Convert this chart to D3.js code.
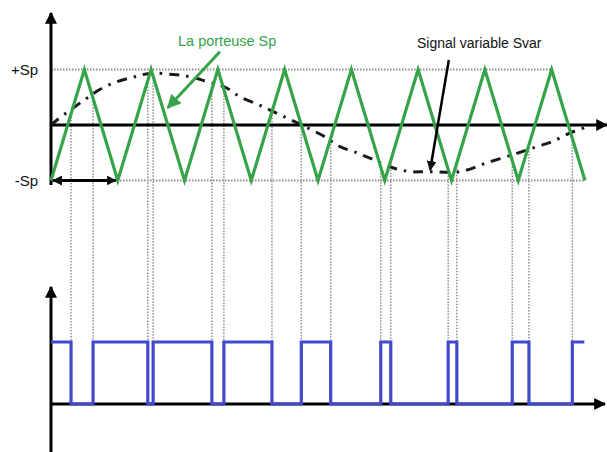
<!DOCTYPE html>
<html>
<head>
<meta charset="utf-8">
<script src="https://cdn.jsdelivr.net/npm/d3@7"></script>
<style>
  html, body { margin: 0; padding: 0; background: #fff; }
  svg { display: block; font-family: "Liberation Sans", Arial, sans-serif; }
</style>
</head>
<body>
<svg id="chart" width="607" height="452"></svg>
<script>
// ---- Data (time in carrier periods, amplitude in units of Sp) ----
const carrierT = [0, 0.5, 1, 1.5, 2, 2.5, 3, 3.5, 4, 4.5, 5, 5.5, 6, 6.5, 7, 7.5, 8];
const carrierV = [-1, 1, -1, 1, -1, 1, -1, 1, -1, 1, -1, 1, -1, 1, -1, 1, -1];

const svarT = [0, 0.10, 0.51, 0.73, 0.99, 1.26, 1.48, 1.83, 2.08, 2.34, 2.61, 2.83, 3.10, 3.33, 3.58, 3.84, 4.10, 4.33, 4.58, 4.82, 5.12, 5.38, 5.63, 6.13, 6.53, 6.98, 7.28, 7.51, 7.78, 8.04];
const svarV = [0, 0.10, 0.46, 0.64, 0.78, 0.87, 0.93, 0.91, 0.87, 0.78, 0.68, 0.51, 0.37, 0.24, 0.10, -0.05, -0.21, -0.39, -0.50, -0.62, -0.77, -0.84, -0.84, -0.84, -0.68, -0.51, -0.39, -0.30, -0.14, -0.03];

// PWM output: switching instants and level held after each instant
const pwmT     = [0, 0.30, 0.63, 1.45, 1.53, 2.41, 2.59, 3.31, 3.75, 4.19, 4.94, 5.09, 5.95, 6.08, 6.91, 7.16, 7.81, 7.99];
const pwmLevel = [1, 0,    1,    0,    1,    0,    1,    0,    1,    0,    1,    0,    1,    0,    1,    0,    1,    1];

const yTickValues = [1, -1];
const yTickLabels = ["+Sp", "-Sp"];

const carrierLabel = "La porteuse Sp";
const svarLabel = "Signal variable Svar";

// ---- Scales ----
const svg = d3.select("#chart");
const x = d3.scaleLinear().domain([0, 8]).range([51, 585]);
const y = d3.scaleLinear().domain([-1, 1]).range([180.5, 69.5]);
const yb = d3.scaleLinear().domain([0, 1]).range([404, 342]);

const GREEN = "#35a347";
const BLUE = "#4349cc";
const GRID = "#8e8e8e";

// ---- Markers ----
const defs = svg.append("defs");
function marker(id, color, size) {
  defs.append("marker")
    .attr("id", id)
    .attr("viewBox", "0 -5 10 10")
    .attr("refX", 9).attr("refY", 0)
    .attr("markerUnits", "userSpaceOnUse")
    .attr("markerWidth", size).attr("markerHeight", size)
    .attr("orient", "auto-start-reverse")
    .append("path").attr("d", "M0,-5L10,0L0,5Z").attr("fill", color);
}
marker("arrBlack", "#000", 12);
marker("arrSmall", "#111", 10);
marker("arrGreen", GREEN, 14);

function carrierAt(t) {
  const i = Math.max(1, Math.min(carrierT.length - 1, d3.bisectRight(carrierT, t)));
  const t0 = carrierT[i - 1], t1 = carrierT[i];
  return d3.interpolateNumber(carrierV[i - 1], carrierV[i])((t - t0) / (t1 - t0));
}

// ---- Dotted guide lines ----
svg.append("line")
  .attr("x1", x(0)).attr("x2", x(7.5))
  .attr("y1", y(1)).attr("y2", y(1))
  .attr("stroke", GRID).attr("stroke-width", 1.8).attr("stroke-dasharray", "1.5,1.5");
svg.append("line")
  .attr("x1", x(0)).attr("x2", x(8))
  .attr("y1", y(-1)).attr("y2", y(-1))
  .attr("stroke", GRID).attr("stroke-width", 1.8).attr("stroke-dasharray", "1.5,1.5");

const edges = pwmT.slice(1, pwmT.length - 1);
svg.append("g").selectAll("line").data(edges).join("line")
  .attr("x1", d => x(d)).attr("x2", d => x(d))
  .attr("y1", d => y(carrierAt(d)))
  .attr("y2", yb(1))
  .attr("stroke", GRID).attr("stroke-width", 1.5).attr("stroke-dasharray", "1.5,1.5");

// ---- Axes ----
function axisLine(x1, y1, x2, y2, m) {
  svg.append("line").attr("x1", x1).attr("y1", y1).attr("x2", x2).attr("y2", y2)
    .attr("stroke", "#000").attr("stroke-width", 3)
    .attr("marker-end", m ? "url(#" + m + ")" : null);
}
axisLine(x(0), 185, x(0), 13, "arrBlack");
axisLine(x(0), y(0), 607, y(0), "arrBlack");
axisLine(x(0), 452, x(0), 287, "arrBlack");
axisLine(x(0), yb(0), 605, yb(0), "arrBlack");

// tick labels +Sp / -Sp
const yAxis = d3.axisLeft(y).tickValues(yTickValues)
  .tickFormat((d, i) => yTickLabels[i]).tickSize(0).tickPadding(13);
const ga = svg.append("g").attr("transform", `translate(${x(0)},0)`).call(yAxis);
ga.select(".domain").remove();
ga.selectAll("text").attr("font-size", 15).attr("fill", "#111")
  .attr("font-family", "Liberation Sans, Arial, sans-serif");

// ---- Svar (dash-dot) ----
const pts = svarT.map((t, i) => [t, svarV[i]]);
svg.append("path")
  .attr("d", d3.line().x(d => x(d[0])).y(d => y(d[1])).curve(d3.curveCatmullRom)(pts))
  .attr("fill", "none").attr("stroke", "#1a1a1a").attr("stroke-width", 3)
  .attr("stroke-dasharray", "10,7,2.5,7");

// ---- Carrier ----
const cpts = carrierT.map((t, i) => [t, carrierV[i]]);
svg.append("path")
  .attr("d", d3.line().x(d => x(d[0])).y(d => y(d[1]))(cpts))
  .attr("fill", "none").attr("stroke", GREEN).attr("stroke-width", 3.2)
  .attr("stroke-linejoin", "miter");

// ---- PWM output ----
const ppts = pwmT.map((t, i) => [t, pwmLevel[i]]);
svg.append("path")
  .attr("d", d3.line().x(d => x(d[0])).y(d => yb(d[1])).curve(d3.curveStepAfter)(ppts))
  .attr("fill", "none").attr("stroke", BLUE).attr("stroke-width", 3.2);

// ---- Period double arrow ----
svg.append("line")
  .attr("x1", x(0.03)).attr("x2", x(0.97))
  .attr("y1", y(-1)).attr("y2", y(-1))
  .attr("stroke", "#000").attr("stroke-width", 3)
  .attr("marker-start", "url(#arrSmall)").attr("marker-end", "url(#arrSmall)");

// ---- Annotations ----
svg.append("line")
  .attr("x1", x(2.53)).attr("y1", y(1.32))
  .attr("x2", x(1.75)).attr("y2", y(0.31))
  .attr("stroke", GREEN).attr("stroke-width", 3)
  .attr("marker-end", "url(#arrGreen)");
svg.append("text").attr("x", 178).attr("y", 46)
  .attr("font-size", 14.5).attr("fill", GREEN).text(carrierLabel);

svg.append("line")
  .attr("x1", x(5.96)).attr("y1", y(1.17))
  .attr("x2", x(5.68)).attr("y2", y(-0.81))
  .attr("stroke", "#000").attr("stroke-width", 2.5)
  .attr("marker-end", "url(#arrSmall)");
svg.append("text").attr("x", 417).attr("y", 48)
  .attr("font-size", 14).attr("fill", "#111").text(svarLabel);
</script>
</body>
</html>
